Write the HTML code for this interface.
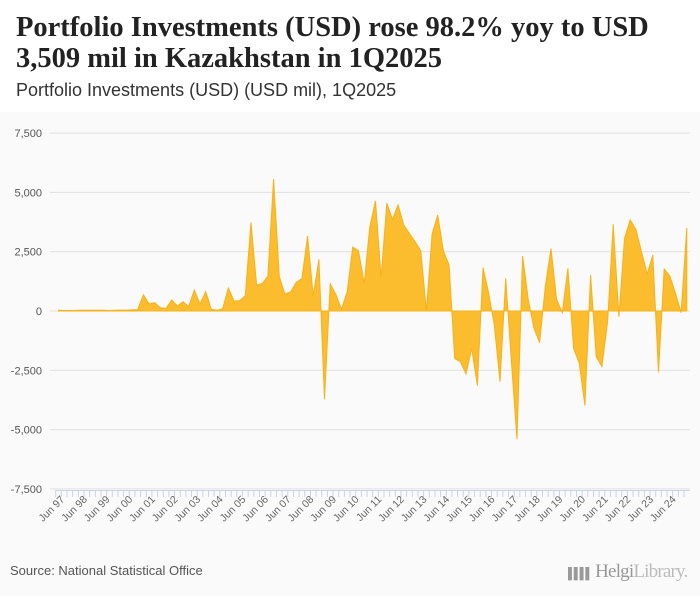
<!DOCTYPE html>
<html><head><meta charset="utf-8"><style>
html,body{margin:0;width:700px;height:596px;overflow:hidden;font-family:"Liberation Sans",sans-serif;background:#fafafa}
#hdr{position:absolute;left:0;top:0;width:700px;height:112px;background:#fff}
#t{position:absolute;left:16px;top:12px;font:bold 28.5px/31px "Liberation Serif",serif;color:#222;margin:0;white-space:nowrap}
#st{position:absolute;left:16px;top:80px;font-size:18px;color:#333}
#src{position:absolute;left:10px;top:563px;font-size:13px;color:#555}
#logo{position:absolute;left:568px;top:561px;font:19px "Liberation Serif",serif;color:#999;letter-spacing:-0.8px;white-space:nowrap}
</style></head><body>
<div id="hdr"></div>
<h1 id="t">Portfolio Investments (USD) rose 98.2% yoy to USD<br>3,509 mil in Kazakhstan in 1Q2025</h1>
<div id="st">Portfolio Investments (USD) (USD mil), 1Q2025</div>
<svg id="c" width="700" height="596" style="position:absolute;left:0;top:0"></svg>
<div id="src">Source: National Statistical Office</div>
<div id="logo"><span style="font-size:11px;letter-spacing:-2px">▌▌▌▌</span> Helgi<span style="color:#bbb">Library.</span></div>
<script>
const yTicks=[7500,5000,2500,0,-2500,-5000,-7500];
const yTickLabels=["7,500","5,000","2,500","0","-2,500","-5,000","-7,500"];
const xLabels=["Jun 97","Jun 98","Jun 99","Jun 00","Jun 01","Jun 02","Jun 03","Jun 04","Jun 05","Jun 06","Jun 07","Jun 08","Jun 09","Jun 10","Jun 11","Jun 12","Jun 13","Jun 14","Jun 15","Jun 16","Jun 17","Jun 18","Jun 19","Jun 20","Jun 21","Jun 22","Jun 23","Jun 24"];
const values=[30,20,20,25,30,30,35,35,30,20,30,40,40,45,60,680,300,350,140,110,460,210,390,180,880,300,815,70,30,100,970,420,435,645,3740,1080,1165,1475,5565,1450,715,800,1210,1360,3160,630,2180,-3720,1150,690,70,815,2700,2540,1165,3550,4640,1405,4540,3860,4470,3625,3270,2920,2540,0,3245,4050,2530,1940,-2000,-2140,-2655,-1575,-3150,1830,745,-590,-2980,1380,-2070,-5410,2320,465,-730,-1335,1025,2640,490,-70,1800,-1575,-2205,-3990,1520,-1925,-2345,-450,3655,-240,3065,3835,3440,2500,1560,2360,-2585,1770,1475,745,-70,3509];
const svg=document.getElementById('c'),NS='http://www.w3.org/2000/svg';
const X0=58.5,X1=686.8,Y0=311,PX=59.3/2500;
const x=i=>X0+(X1-X0)*i/(values.length-1);
const y=v=>Y0-v*PX;
function mk(t,a){const e=document.createElementNS(NS,t);for(const k in a)e.setAttribute(k,a[k]);svg.appendChild(e);return e;}
yTicks.forEach((v,k)=>{
 const g=mk('line',{x1:50,x2:690,y1:y(v),y2:y(v),stroke:'#e0e0e0','stroke-width':1});
 
 
 const t=mk('text',{x:42,y:y(v)+4,'text-anchor':'end','font-size':11,fill:'#555','font-family':'Liberation Sans, sans-serif'});
 t.textContent=yTickLabels[k];
 
 
});
let d='M'+x(0)+','+y(0);
values.forEach((v,i)=>{d+=' L'+x(i).toFixed(1)+','+y(v).toFixed(1);});
d+=' L'+x(values.length-1)+','+y(0)+' Z';
const area=mk('path',{d:d,fill:'#fbbc2e',stroke:'#f6b21a','stroke-width':1});


const ax=mk('line',{x1:55,x2:690,y1:490.5,y2:490.5,stroke:'#c8d4e8'});


for(let i=0;i<values.length;i++){
 const tk=mk('line',{x1:x(i)-2.8,x2:x(i)-2.8,y1:490,y2:497,stroke:'#c8d4e8'});
 
 
}
xLabels.forEach((l,k)=>{
 const px=x(1+4*k)+1,py=500;
 const t=mk('text',{x:px,y:py,'text-anchor':'end','font-size':10.5,fill:'#666','font-family':'Liberation Sans, sans-serif',transform:'rotate(-45 '+px+' '+py+')'});
 t.textContent=l;
 
 
});
</script>
</body></html>
